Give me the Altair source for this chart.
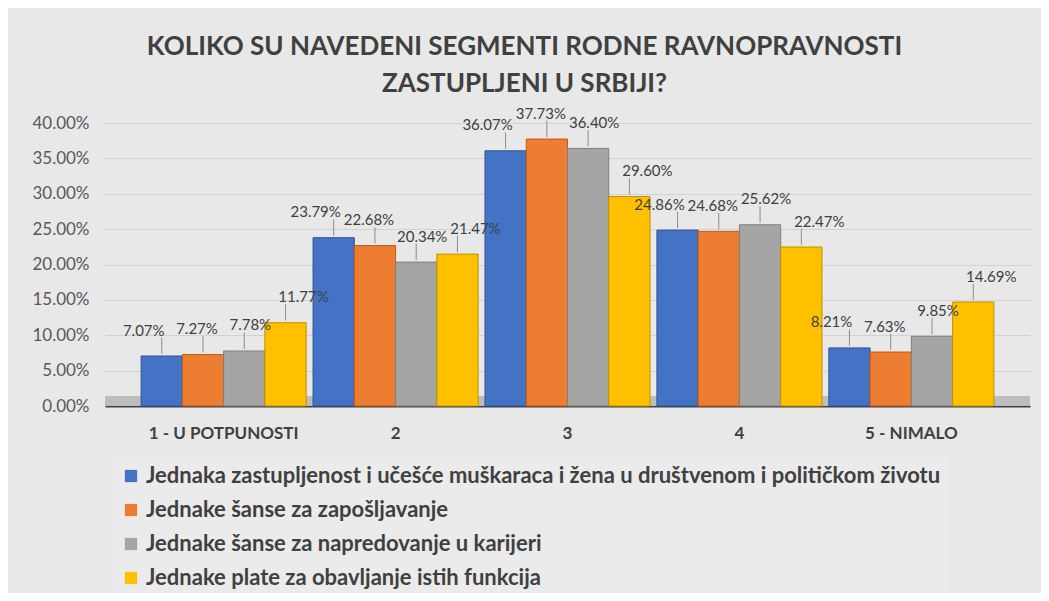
import altair as alt
import pandas as pd

CATEGORIES = ["1 - U POTPUNOSTI", "2", "3", "4", "5 - NIMALO"]
SERIES = [
    "Jednaka zastupljenost i učešće muškaraca i žena u društvenom i političkom životu",
    "Jednake šanse za zapošljavanje",
    "Jednake šanse za napredovanje u karijeri",
    "Jednake plate za obavljanje istih funkcija",
]
S1 = [7.07, 23.79, 36.07, 24.86, 8.21]
S2 = [7.27, 22.68, 37.73, 24.68, 7.63]
S3 = [7.78, 20.34, 36.40, 25.62, 9.85]
S4 = [11.77, 21.47, 29.60, 22.47, 14.69]
Y_TICKS = [0, 5, 10, 15, 20, 25, 30, 35, 40]
TITLE = ["KOLIKO SU NAVEDENI SEGMENTI RODNE RAVNOPRAVNOSTI", "ZASTUPLJENI U SRBIJI?"]

COLORS = ["#4472C4", "#ED7D31", "#A5A5A5", "#FFC000"]
STROKES = ["#2F5597", "#C55A11", "#7F7F7F", "#BF9000"]
LABEL_DX = [-18, -6, 6, 18]
FONT = "Lato"
W, H = 925, 283

rows = []
for i, (s, vals) in enumerate(zip(SERIES, [S1, S2, S3, S4])):
    for c, v in zip(CATEGORIES, vals):
        rows.append({"cat": c, "series": s, "val": v / 100.0, "idx": i})
df = pd.DataFrame(rows)

x_enc = alt.X(
    "cat:N",
    sort=CATEGORIES,
    scale=alt.Scale(domain=CATEGORIES, paddingInner=0.04, paddingOuter=0.21),
    axis=alt.Axis(
        title=None, labelAngle=0, labelFont=FONT, labelFontSize=17,
        labelFontWeight="bold", labelColor="#404040", domain=True,
        domainColor="#404040", domainWidth=2, ticks=False, labelPadding=19,
        grid=False,
    ),
)
y_axis = alt.Axis(
    title=None, values=[t / 100.0 for t in Y_TICKS], format=".2%",
    labelFont=FONT, labelFontSize=17, labelColor="#595959",
    grid=True, gridColor="#d2d2d2", gridWidth=1, domain=False,
    ticks=False, labelPadding=16,
)
y_scale = alt.Scale(domain=[0, 0.4], nice=False)
xoff = alt.XOffset("series:N", sort=SERIES,
                   scale=alt.Scale(domain=SERIES, paddingInner=0, paddingOuter=0))

base = alt.Chart(df)

floor = alt.Chart(pd.DataFrame({"a": [0]})).mark_rect(color="#bdbdbd").encode(
    x=alt.value(0), x2=alt.value(W), y=alt.value(H - 10), y2=alt.value(H)
)

bars = base.mark_bar(strokeWidth=1).encode(
    x=x_enc,
    xOffset=xoff,
    y=alt.Y("val:Q", scale=y_scale, axis=y_axis),
    color=alt.Color(
        "series:N", sort=SERIES,
        scale=alt.Scale(domain=SERIES, range=COLORS),
        legend=alt.Legend(
            orient="none", legendX=7, legendY=334, direction="vertical",
            title=None, labelFont=FONT, labelFontSize=22, labelFontWeight="bold",
            labelColor="#404040", symbolType="square", symbolSize=150,
            symbolStrokeWidth=0, fillColor="#ebebeb", padding=8,
            rowPadding=12, labelLimit=1000, labelOffset=4,
        ),
    ),
    stroke=alt.Stroke("series:N", sort=SERIES,
                      scale=alt.Scale(domain=SERIES, range=STROKES), legend=None),
)

leaders = base.transform_calculate(
    lo="datum.val + 0.003", hi="datum.val + 0.026"
).mark_rule(color="#8c8c8c", strokeWidth=1).encode(
    x=x_enc, xOffset=xoff,
    y=alt.Y("lo:Q", scale=y_scale, axis=y_axis),
    y2="hi:Q",
)

text_layers = []
for i, dx in enumerate(LABEL_DX):
    t = base.transform_filter(alt.datum.idx == i).transform_calculate(
        ly="datum.val + 0.036"
    ).mark_text(
        dx=dx, font=FONT, fontSize=15, color="#404040", baseline="middle"
    ).encode(
        x=x_enc, xOffset=xoff,
        y=alt.Y("ly:Q", scale=y_scale, axis=y_axis),
        text=alt.Text("val:Q", format=".2%"),
    )
    text_layers.append(t)

chart = alt.layer(floor, bars, leaders, *text_layers).properties(
    width=W,
    height=H,
    autosize=alt.AutoSizeParams(type="none"),
    padding={"left": 97, "top": 115, "right": 11, "bottom": 187},
    background="#e8e8e8",
    title=alt.TitleParams(
        TITLE, anchor="middle", frame="group", dx=-43, offset=10,
        font=FONT, fontSize=26, fontWeight="bold", color="#404040",
        lineHeight=37,
    ),
).configure_view(strokeWidth=0)

chart.save("out.html", embed_options={"renderer": "svg", "actions": False})
